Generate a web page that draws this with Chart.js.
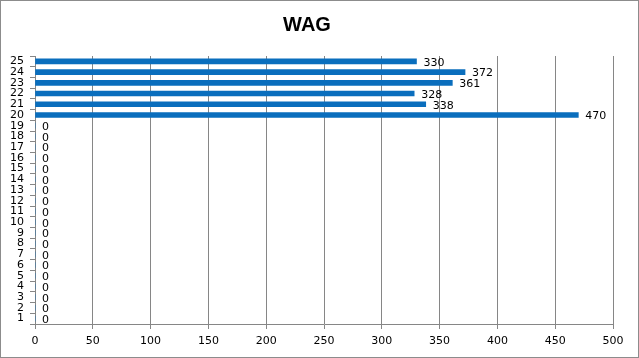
<!DOCTYPE html>
<html><head><meta charset="utf-8">
<script src="https://cdn.jsdelivr.net/npm/chart.js@4"></script>
<style>
html,body{margin:0;padding:0;background:#fff;}
#wrap{width:637px;height:356px;border:1px solid #8c8c8c;position:relative;}
</style></head>
<body><div id="wrap"><canvas id="c" width="637" height="356"></canvas></div>
<script>
const title = 'WAG';
const categories = ['1','2','3','4','5','6','7','8','9','10','11','12','13','14','15','16','17','18','19','20','21','22','23','24','25'];
const values = [0,0,0,0,0,0,0,0,0,0,0,0,0,0,0,0,0,0,0,470,338,328,361,372,330];
const xMin = 0, xMax = 500, xStep = 50;

const FONT = 'DejaVu Sans';
const labelPlugin = {
  id: 'valueLabels',
  afterDatasetsDraw(chart) {
    const ctx = chart.ctx;
    const meta = chart.getDatasetMeta(0);
    ctx.save();
    ctx.font = '11px "' + FONT + '"';
    ctx.fillStyle = '#000';
    ctx.textAlign = 'left';
    ctx.textBaseline = 'middle';
    meta.data.forEach((bar, i) => {
      ctx.fillText(String(values[i]), bar.x + 7, bar.y + 1.5);
    });
    ctx.restore();
  }
};

new Chart(document.getElementById('c'), {
  type: 'bar',
  data: {
    labels: categories,
    datasets: [{ data: values, backgroundColor: '#0a6ebd', barThickness: 5 }]
  },
  options: {
    indexAxis: 'y',
    responsive: false,
    animation: false,
    layout: { padding: { left: 0, right: 25, top: 0, bottom: 0 } },
    plugins: {
      legend: { display: false },
      tooltip: { enabled: false },
      title: { display: true, text: title, color: '#000',
        font: { family: 'Liberation Sans', size: 20, weight: 'bold', lineHeight: 1.2 },
        padding: { top: 12, bottom: 19 } }
    },
    scales: {
      x: {
        min: xMin, max: xMax,
        ticks: { stepSize: xStep, color: '#000', font: { family: FONT, size: 11 }, padding: 6 },
        grid: { color: '#868686', tickLength: 5, tickColor: '#868686' },
        border: { color: '#868686' },
        afterFit(s) { s.height = 33; }
      },
      y: {
        reverse: true,
        ticks: { color: '#000', font: { family: FONT, size: 11 }, padding: 6, autoSkip: false },
        grid: { drawOnChartArea: false, tickLength: 5, color: '#868686', offset: true },
        border: { color: '#868686' },
        afterFit(s) { s.width = 34; }
      }
    }
  },
  plugins: [labelPlugin]
});
</script></body></html>
